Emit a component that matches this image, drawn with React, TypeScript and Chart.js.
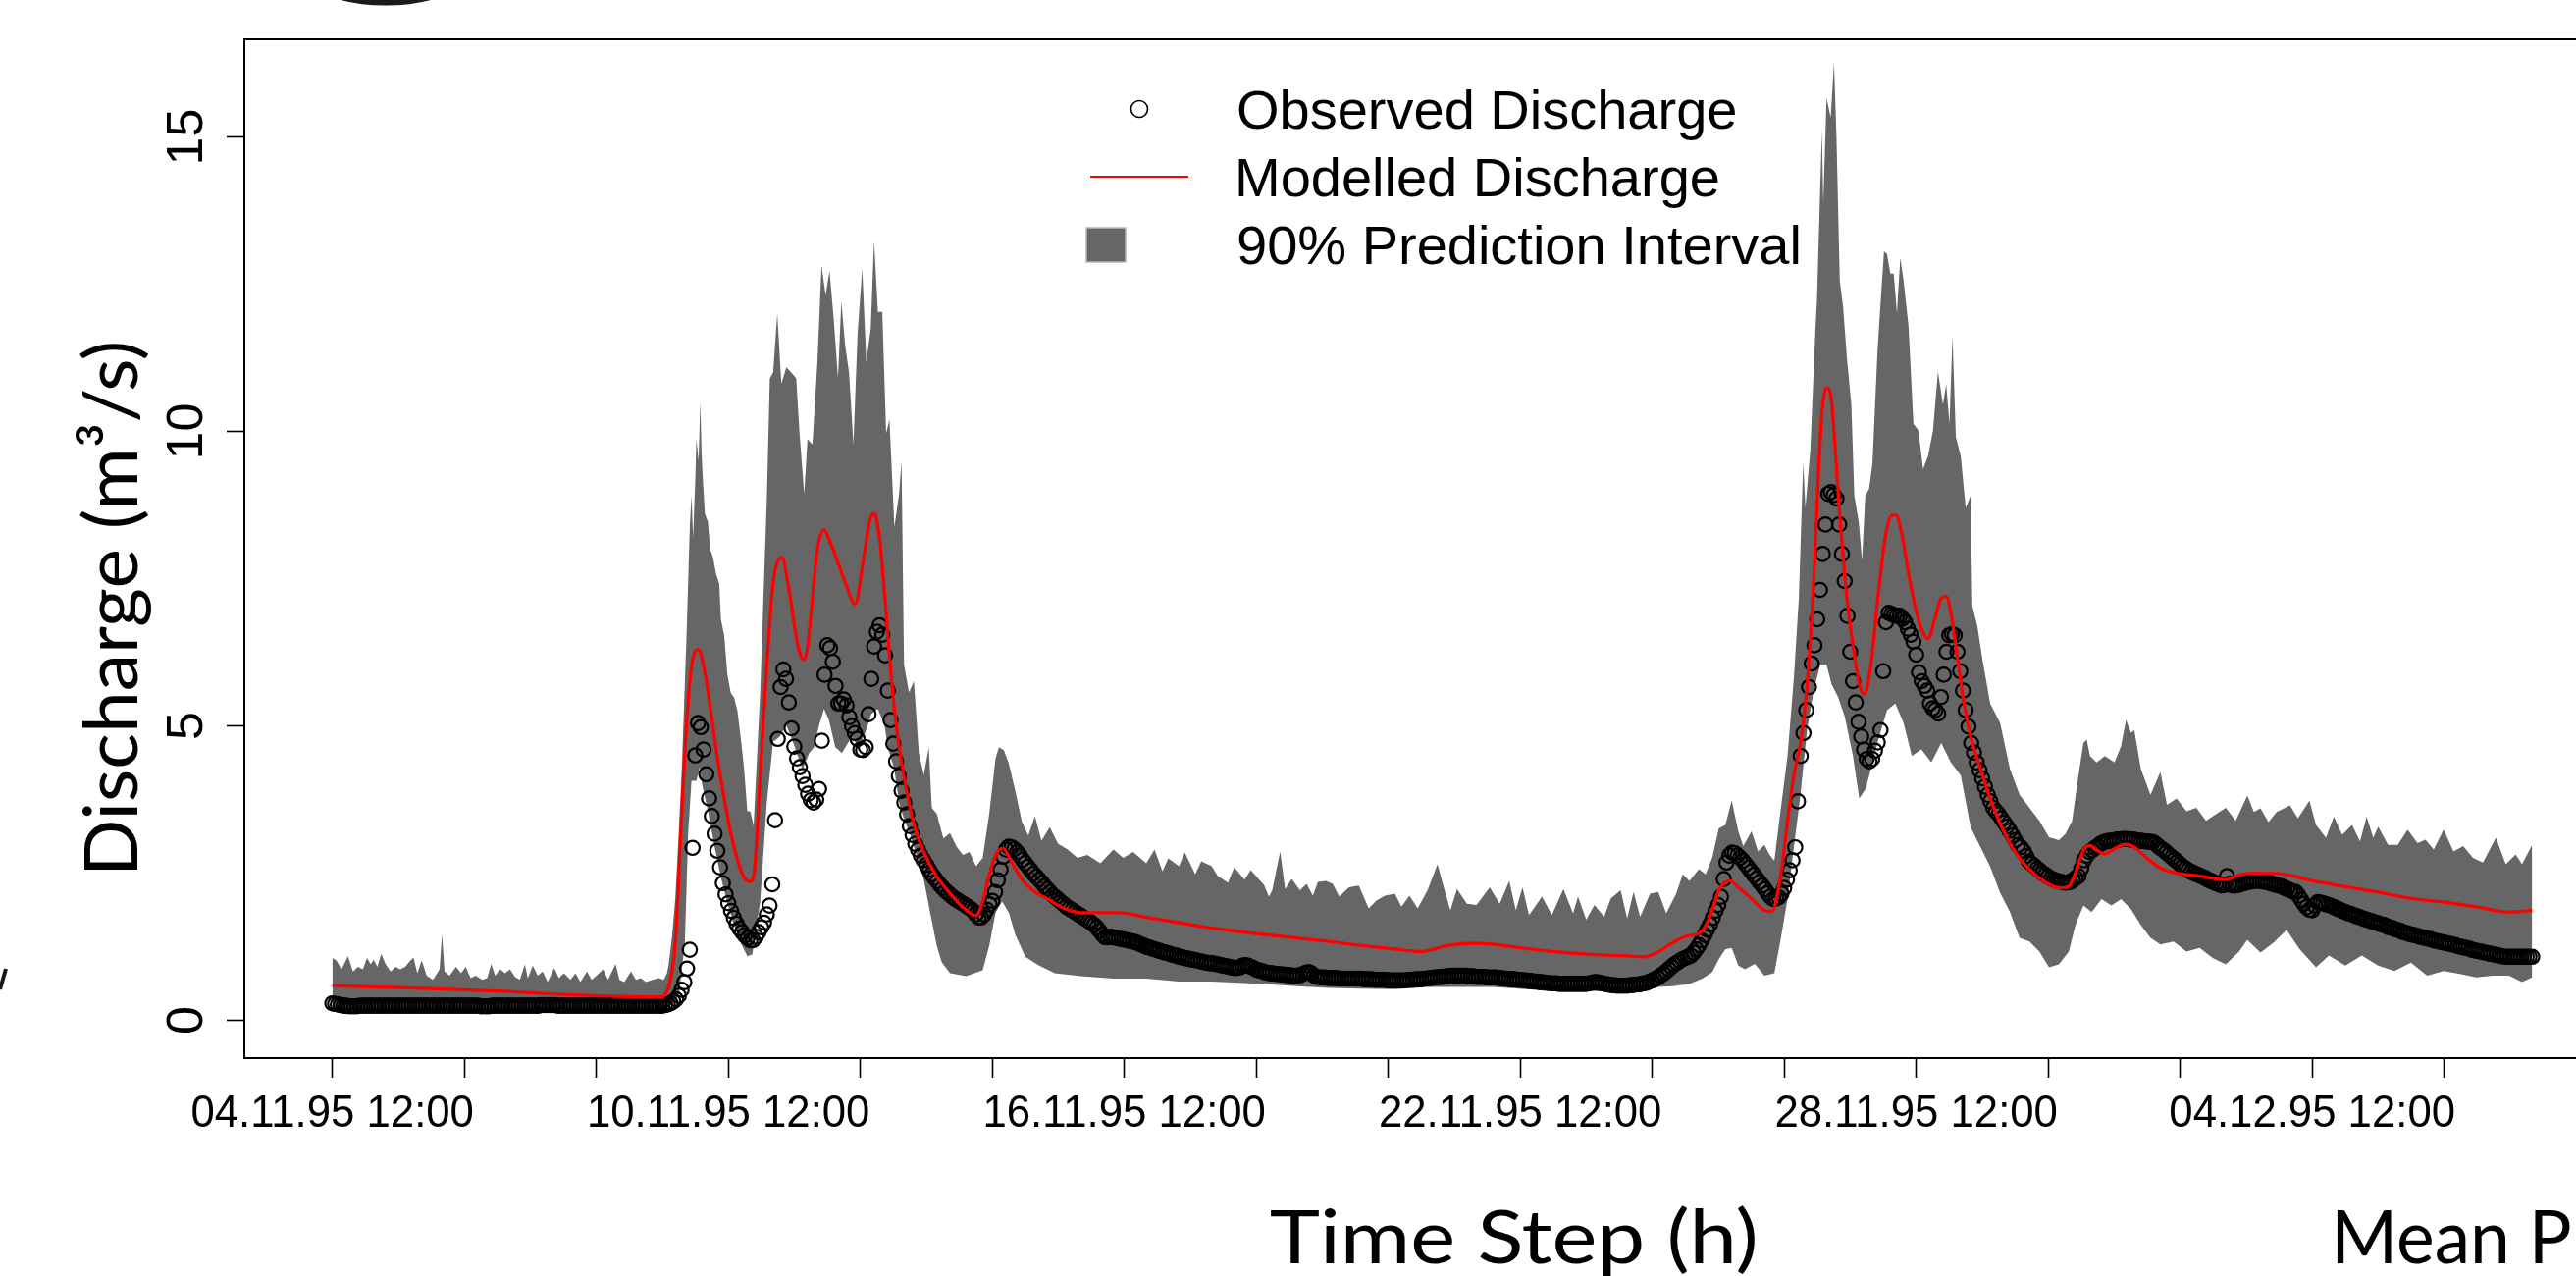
import React, { useEffect, useRef } from "react";
import { Chart, registerables } from "chart.js";

Chart.register(...registerables);

// ---------- DATA (hours after 04.11.95 12:00) ----------
const observed: number[] = [
  0.29,0.28,0.27,0.26,0.25,0.25,0.24,0.24,0.24,0.24,0.25,0.25,0.25,0.25,0.25,0.25,0.25,0.25,0.25,0.25,0.25,0.25,0.25,0.25,
  0.25,0.25,0.25,0.25,0.25,0.25,0.25,0.25,0.25,0.25,0.25,0.25,0.25,0.25,0.25,0.25,0.25,0.25,0.25,0.25,0.25,0.25,0.25,0.25,
  0.25,0.25,0.25,0.25,0.25,0.25,0.24,0.24,0.24,0.24,0.25,0.25,0.25,0.25,0.25,0.25,0.25,0.25,0.25,0.25,0.25,0.25,0.25,0.25,
  0.25,0.25,0.25,0.25,0.26,0.26,0.26,0.26,0.26,0.26,0.25,0.25,0.25,0.25,0.25,0.25,0.25,0.25,0.25,0.25,0.25,0.25,0.25,0.25,
  0.25,0.25,0.25,0.25,0.25,0.25,0.25,0.25,0.25,0.25,0.25,0.25,0.25,0.25,0.25,0.25,0.25,0.25,0.25,0.25,0.25,0.25,0.25,0.25,
  0.25,0.26,0.27,0.29,0.32,0.36,0.42,0.52,0.65,0.88,1.20,2.93,4.50,5.05,4.98,4.60,4.18,3.77,3.47,3.17,2.88,2.60,2.33,2.14,
  1.99,1.86,1.74,1.64,1.56,1.50,1.44,1.40,1.36,1.36,1.42,1.50,1.58,1.66,1.80,1.95,2.31,3.40,4.78,5.66,5.96,5.80,5.40,4.96,
  4.65,4.45,4.30,4.15,4.00,3.85,3.74,3.70,3.75,3.93,4.75,5.87,6.37,6.32,6.09,5.68,5.38,5.38,5.45,5.35,5.15,5.00,4.88,4.78,
  4.60,4.59,4.64,5.20,5.80,6.35,6.60,6.71,6.55,6.20,5.60,5.10,4.70,4.40,4.15,3.90,3.70,3.50,3.30,3.15,3.00,2.90,2.80,2.72,
  2.64,2.56,2.48,2.42,2.36,2.30,2.25,2.20,2.16,2.12,2.08,2.05,2.02,1.99,1.96,1.93,1.90,1.86,1.80,1.75,1.75,1.80,1.88,1.97,
  2.03,2.18,2.38,2.56,2.78,2.90,2.95,2.94,2.91,2.86,2.80,2.73,2.67,2.61,2.55,2.49,2.44,2.39,2.34,2.28,2.23,2.18,2.13,2.09,
  2.05,2.01,1.97,1.93,1.90,1.87,1.84,1.81,1.78,1.75,1.72,1.69,1.66,1.62,1.58,1.52,1.46,1.41,1.41,1.42,1.41,1.40,1.39,1.38,
  1.37,1.36,1.35,1.34,1.33,1.31,1.29,1.27,1.25,1.24,1.22,1.21,1.19,1.18,1.16,1.15,1.14,1.12,1.11,1.10,1.08,1.07,1.06,1.05,
  1.04,1.03,1.02,1.01,1.00,0.99,0.98,0.97,0.97,0.96,0.95,0.94,0.93,0.92,0.91,0.90,0.89,0.89,0.90,0.93,0.94,0.93,0.91,0.89,
  0.86,0.85,0.84,0.82,0.81,0.80,0.80,0.79,0.79,0.78,0.78,0.77,0.77,0.76,0.76,0.76,0.77,0.79,0.81,0.82,0.80,0.76,0.74,0.73,
  0.73,0.73,0.72,0.72,0.72,0.72,0.71,0.71,0.71,0.71,0.71,0.71,0.71,0.71,0.71,0.70,0.70,0.70,0.70,0.69,0.69,0.69,0.69,0.69,
  0.68,0.68,0.68,0.68,0.68,0.68,0.68,0.69,0.69,0.69,0.70,0.70,0.70,0.71,0.71,0.72,0.72,0.73,0.73,0.74,0.74,0.75,0.75,0.76,
  0.76,0.76,0.76,0.76,0.76,0.75,0.75,0.75,0.74,0.74,0.74,0.74,0.73,0.73,0.73,0.73,0.72,0.72,0.71,0.71,0.70,0.70,0.70,0.69,
  0.69,0.68,0.68,0.67,0.67,0.66,0.66,0.65,0.65,0.64,0.64,0.63,0.63,0.63,0.62,0.62,0.62,0.62,0.62,0.62,0.62,0.62,0.62,0.62,
  0.62,0.63,0.64,0.65,0.65,0.64,0.63,0.62,0.61,0.60,0.60,0.59,0.59,0.59,0.59,0.59,0.60,0.60,0.61,0.61,0.62,0.63,0.64,0.66,
  0.68,0.70,0.73,0.76,0.79,0.83,0.87,0.91,0.95,0.98,1.01,1.04,1.06,1.08,1.10,1.15,1.21,1.28,1.36,1.45,1.54,1.63,1.74,1.86,
  1.96,2.10,2.40,2.68,2.80,2.85,2.84,2.80,2.76,2.71,2.65,2.59,2.53,2.47,2.41,2.35,2.29,2.23,2.16,2.10,2.06,2.07,2.09,2.15,
  2.25,2.39,2.55,2.72,2.94,3.72,4.49,4.88,5.27,5.66,6.06,6.37,6.81,7.31,7.92,8.42,8.94,8.97,8.92,8.86,8.42,7.92,7.46,6.87,
  6.26,5.76,5.40,5.07,4.82,4.60,4.44,4.40,4.44,4.58,4.72,4.93,5.93,6.76,6.92,6.90,6.88,6.87,6.87,6.82,6.76,6.65,6.55,6.43,
  6.21,5.91,5.76,5.68,5.60,5.38,5.30,5.27,5.21,5.49,5.87,6.26,6.54,6.56,6.54,6.26,5.93,5.60,5.27,4.99,4.71,4.55,4.38,4.25,
  4.11,3.97,3.83,3.72,3.61,3.55,3.50,3.43,3.36,3.29,3.22,3.14,3.06,2.98,2.94,2.88,2.79,2.70,2.66,2.62,2.58,2.54,2.50,2.47,
  2.44,2.41,2.39,2.37,2.36,2.35,2.34,2.34,2.35,2.38,2.42,2.45,2.58,2.72,2.80,2.86,2.89,2.93,2.96,3.00,3.02,3.04,3.05,3.05,
  3.06,3.07,3.07,3.08,3.08,3.08,3.07,3.07,3.06,3.05,3.05,3.04,3.04,3.03,3.03,3.00,2.96,2.92,2.89,2.85,2.81,2.77,2.73,2.69,
  2.65,2.61,2.58,2.55,2.52,2.50,2.48,2.46,2.44,2.42,2.39,2.37,2.35,2.33,2.31,2.29,2.30,2.45,2.32,2.29,2.29,2.30,2.31,2.33,
  2.34,2.35,2.36,2.37,2.37,2.37,2.36,2.35,2.34,2.33,2.31,2.30,2.29,2.27,2.25,2.23,2.21,2.19,2.18,2.12,2.05,1.98,1.92,1.88,
  1.87,1.95,2.01,2.00,1.99,1.97,1.96,1.94,1.92,1.90,1.88,1.86,1.84,1.82,1.81,1.79,1.77,1.76,1.74,1.72,1.71,1.69,1.68,1.66,
  1.65,1.63,1.62,1.60,1.58,1.57,1.55,1.54,1.52,1.50,1.49,1.47,1.46,1.45,1.44,1.42,1.41,1.40,1.39,1.38,1.36,1.35,1.34,1.33,
  1.32,1.31,1.30,1.29,1.28,1.26,1.25,1.24,1.23,1.22,1.20,1.19,1.18,1.17,1.16,1.15,1.14,1.13,1.12,1.11,1.10,1.09,1.08,1.08,
  1.08,1.08,1.08,1.08,1.08,1.08,1.08,1.08,1.08,
];

// [hour, discharge]
const modelled: [number, number][] = [
  [0,0.59],[30,0.55],[60,0.5],[90,0.43],[115,0.4],[120,0.4],[121,0.45],[122.3,0.57],[124.7,1.32],[127.1,3.55],[128.8,5.04],
  [130.6,6.0],[133,6.3],[135.4,5.93],[137.8,5.19],[140.1,4.44],[142.5,3.77],[144.9,3.18],[147.3,2.73],[149.7,2.43],[152,2.36],
  [153.5,2.55],[155.6,4.17],[158,6.04],[160.3,7.44],[162,7.8],[163.7,7.86],[165,7.6],[166.3,7.25],[168.7,6.51],[170.3,6.2],
  [171.6,6.13],[173,6.4],[174,6.88],[176.4,8.0],[178.8,8.33],[181.2,8.1],[183.5,7.82],[186.5,7.44],[190.1,7.07],[193.1,7.82],
  [195.4,8.47],[197,8.61],[199,8.19],[200.8,7.25],[203.2,5.85],[205.6,4.82],[208.5,3.98],[211.5,3.33],[215.1,2.86],[219.8,2.44],
  [224.6,2.16],[229.3,1.92],[234.1,1.78],[236.5,2.02],[238.9,2.48],[241.2,2.81],[243.9,2.92],[247.2,2.67],[250.8,2.39],
  [255.5,2.18],[260.3,2.06],[266.2,1.9],[272.2,1.83],[286.5,1.83],[296,1.75],[307.9,1.66],[319.8,1.57],[331.7,1.5],[338.8,1.46],
  [350.7,1.4],[362.6,1.34],[374.5,1.27],[386.4,1.21],[395.9,1.17],[400,1.2],[404.2,1.26],[416.1,1.31],[434,1.22],[445.9,1.16],
  [457.8,1.12],[469.7,1.1],[476.8,1.08],[481.6,1.15],[487.5,1.32],[492.3,1.43],[497,1.48],[499.4,1.6],[501.8,1.87],[504.2,2.21],
  [506.6,2.35],[508.3,2.37],[511.3,2.26],[516.1,2.07],[520.8,1.87],[523.5,1.85],[526.8,2.5],[529.2,3.39],[531.5,4.16],
  [533.9,4.71],[535.7,5.38],[536.9,6.04],[538.1,6.92],[539.3,8.03],[540.5,9.36],[542,10.46],[543.4,10.74],[544.9,10.63],
  [546.4,9.8],[548.2,8.58],[550.6,7.26],[553,6.37],[555.3,5.71],[557.1,5.54],[559.5,6.04],[562.5,7.37],[564.9,8.25],[567.2,8.58],
  [568.7,8.58],[570.8,8.25],[573.2,7.59],[575.6,7.03],[577.9,6.65],[580.3,6.48],[582.7,6.81],[585.1,7.17],[586.9,7.2],
  [588.6,6.92],[591,6.15],[593.4,5.38],[595.8,4.82],[599.4,4.27],[602.9,3.77],[607.7,3.22],[612.4,2.83],[617.2,2.56],
  [623.2,2.34],[628.5,2.25],[631.5,2.28],[633.9,2.5],[636.8,2.89],[639.2,2.97],[641.6,2.89],[644.6,2.83],[648.1,2.92],
  [652.3,2.99],[655.3,2.94],[660,2.75],[664.8,2.59],[670.7,2.5],[679.1,2.45],[688.6,2.39],[693.4,2.47],[699.3,2.5],
  [708.3,2.49],[720.2,2.37],[732.1,2.27],[744,2.18],[755.9,2.07],[767.8,2.01],[779.7,1.93],[791.6,1.84],[800,1.87],
];

const upperBound: [number, number][] = [
  [0,1.06],[1.5,1.02],[3.3,0.87],[5.7,1.09],[7.5,0.83],[9.3,0.91],[11.1,0.87],[12.6,1.06],[14,0.95],[15,1.03],[16.4,0.91],
  [17.8,1.13],[19.4,0.95],[21.2,0.83],[23,0.91],[24.7,0.87],[26.5,0.91],[27.7,0.98],[29.5,1.07],[30.9,0.8],[32.5,1.02],
  [34.3,0.76],[36.6,0.69],[39,0.87],[39.9,1.47],[40.8,0.83],[42.6,0.76],[45,0.91],[46.8,0.8],[48.5,0.91],[50.3,0.72],
  [52.1,0.76],[54.5,0.69],[56.3,0.72],[57.8,0.96],[59.2,0.76],[61,0.87],[62.8,0.8],[64.6,0.87],[66.4,0.74],[68.2,0.69],
  [70,0.95],[71.1,0.72],[72.9,0.93],[74.7,0.76],[76.5,0.83],[78.3,0.65],[80.7,0.89],[82.4,0.72],[84.2,0.8],[86.6,0.69],
  [88.4,0.8],[90.2,0.65],[92.6,0.83],[94.3,0.69],[96.1,0.76],[98.5,0.87],[100.3,0.69],[103,0.96],[104.4,0.69],[106.2,0.65],
  [108.6,0.83],[110.4,0.69],[112.2,0.72],[114,0.65],[116.4,0.69],[118.7,0.72],[120.5,0.69],[121.7,0.8],
  [122.3,0.95],[123.5,1.4],[124.7,2.06],[126,3.2],[127.1,4.3],[128.8,6.53],[130,8.39],[130.6,8.91],[131.2,8.2],[132,9.2],
  [132.4,9.87],[133.2,9.5],[133.8,10.51],[134.3,9.6],[134.8,9.13],[135.5,8.6],[136.6,8.46],[137.4,8.0],[138.4,7.87],
  [139.6,7.57],[140.7,7.42],[141.3,6.82],[142.5,6.53],[143.7,5.86],[144.9,5.56],[146.1,5.48],[147.3,5.26],[148.5,4.81],
  [149.7,4.29],[150.9,3.55],[152,3.55],[153.2,3.3],[155.6,5.57],[158,8.85],[159.1,10.9],[160.3,11.0],[161.8,12.0],
  [163.3,10.81],[165.1,11.09],[166.9,11.0],[168.7,10.9],[169.9,9.97],[171.6,8.94],[172.8,9.87],[174.6,9.78],[176.4,11.18],
  [177.9,12.82],[179.4,12.31],[180.8,12.73],[182.3,11.93],[183.9,10.9],[185.1,12.21],[186.5,11.46],[187.9,11.0],[189.5,9.78],
  [191,11.65],[192.7,12.77],[194.2,11.18],[195.8,11.75],[197,13.24],[198.4,12.03],[200,12.03],[201.4,9.97],[202.6,10.2],
  [204.4,8.38],[206.1,8.94],[207,9.5],[207.9,6.04],[209.7,5.57],[211.5,5.76],[213.3,4.54],[215.1,4.17],[216.9,4.64],[218,3.61],
  [219.8,3.51],[222.2,3.09],[224.6,3.18],[227,2.95],[229.3,2.81],[231.7,2.86],[234.1,2.62],[236.5,2.76],[238.9,3.51],
  [241.2,4.45],[242.4,4.64],[244.2,4.59],[246,4.36],[248.4,3.89],[250.8,3.37],[253.1,3.14],[255.5,3.47],[257.9,3.05],
  [260.9,3.28],[263.9,3.0],[267.4,2.9],[271,2.76],[274.6,2.81],[279.3,2.67],[284.1,2.9],[287.6,2.76],[291.2,2.86],[296,2.67],
  [299,2.9],[301.9,2.53],[304,2.75],[307.9,2.62],[310,2.85],[313.8,2.48],[316,2.7],[319.8,2.62],[322,2.45],[325.7,2.34],
  [328,2.6],[331.7,2.39],[334,2.55],[338.8,2.3],[340.6,2.1],[341.8,2.21],[344.7,2.87],[346.5,2.23],[348.9,2.4],[351.9,2.21],
  [354.3,2.32],[356.6,2.12],[358.4,2.35],[361.4,2.37],[363.8,2.32],[366.2,2.1],[369.7,2.26],[373.3,2.29],[376.9,1.9],
  [379.8,2.04],[382.8,2.12],[386.4,2.15],[388.8,1.93],[391.7,2.12],[394.7,1.9],[398.3,2.21],[401.9,2.65],[404.2,2.26],
  [406.6,1.87],[409,2.23],[412.6,1.98],[416.1,1.96],[420.9,2.26],[424.5,1.98],[428,2.37],[430.4,1.87],[432.8,2.26],
  [435.2,1.79],[439.9,2.1],[443.5,1.79],[447.7,2.23],[451.2,1.82],[453,2.1],[456,1.71],[459,1.96],[462.5,1.76],[464.9,2.07],
  [468.5,2.21],[470.9,1.73],[473.2,2.18],[475.6,1.76],[479.2,2.15],[482.2,2.18],[485.1,1.82],[488.7,2.15],[491.1,2.48],
  [493.5,2.37],[497,2.57],[499.4,2.48],[501.8,2.76],[504.2,3.26],[506.6,3.32],[508.9,3.73],[511.3,3.21],[513.1,2.96],
  [516.1,3.21],[518.5,2.87],[520.8,2.98],[522.6,2.82],[524.4,2.71],[526.8,3.61],[529.2,4.49],[531.5,5.82],[533.3,7.15],
  [534.9,9.47],[535.7,8.7],[537.5,9.69],[539.3,11.68],[539.9,12.23],[541.7,15.11],[542.2,13.89],[543.4,15.66],[544.9,15.33],
  [546.1,16.27],[547,15.0],[548.2,12.56],[549.4,12.12],[550.8,11.24],[552.4,10.46],[553.5,8.91],[555.1,8.47],[556.3,7.81],
  [557.5,8.91],[558.9,9.03],[560.1,9.47],[561.9,11.35],[563.1,12.23],[564.3,13.06],[565.4,13.01],[566.6,12.68],[567.8,12.68],
  [569,12.01],[570.2,12.95],[571.4,12.56],[573.2,11.79],[575,10.13],[576.8,10.02],[578.5,9.36],[580.3,9.58],[582.1,10.02],
  [583.9,11.02],[585.7,10.46],[586.9,10.8],[588.1,10.13],[589.2,11.62],[590.4,9.91],[592.2,9.58],[594,8.7],[595.8,8.91],
  [596.4,7.04],[598.2,6.7],[600,6.15],[602.9,5.38],[606.5,5.05],[610.1,4.27],[613.6,3.83],[617.2,3.61],[620.8,3.39],
  [624.3,3.11],[627.9,3.06],[630.3,3.17],[632.7,3.39],[635,4.16],[636.8,4.71],[638,4.77],[639.2,4.49],[641.6,4.38],
  [644.6,4.49],[648.1,4.38],[650.5,4.66],[652.3,5.1],[654.1,4.88],[655.3,4.93],[657.7,4.27],[661.2,3.83],[664.8,4.22],
  [667.2,3.66],[670.7,3.77],[674.3,3.55],[677.9,3.61],[681.4,3.39],[685,3.5],[688.6,3.61],[692.2,3.39],[696.4,3.82],
  [698.8,3.54],[701.2,3.6],[704.1,3.37],[707.1,3.54],[711.9,3.65],[714.8,3.43],[719,3.73],[721.4,3.32],[725,3.1],[727.9,3.46],
  [730.9,3.15],[734.5,3.32],[737.4,3.04],[739.8,3.46],[742.2,3.1],[744,3.29],[747.6,2.98],[751.1,2.98],[754.7,3.24],
  [758.3,3.01],[761.2,3.07],[764.2,2.9],[767.8,3.24],[771.4,2.87],[774.9,2.96],[778.5,2.76],[782.1,2.68],[786.8,3.1],
  [790.4,2.65],[794,2.82],[796.3,2.65],[800,2.98],
];

const lowerBound: [number, number][] = [
  [0,0.2],[60,0.2],[120,0.2],[122,0.24],[124,0.3],[126,0.42],[128.2,1.32],[129.4,3.18],[130.6,4.07],[132.4,4.07],[133.6,4.3],
  [134.5,4.0],[136.6,3.55],[139,2.95],[141.3,2.43],[143.7,1.99],[146.1,1.62],[148.5,1.32],[150.9,1.09],[152.7,1.12],
  [155.6,2.02],[158,3.7],[160.3,4.73],[162.7,4.82],[165.1,5.01],[167.5,4.73],[171,4.26],[173.4,4.54],[175.2,4.64],[177,5.01],
  [178.8,5.29],[180.6,5.1],[182.9,4.64],[185.3,4.54],[188.9,4.82],[191.3,4.64],[193.7,4.87],[196,5.2],[198.4,5.29],[200.8,5.01],
  [202,4.64],[204.4,4.26],[206.1,3.7],[207.9,3.42],[210.3,3.14],[212.7,2.76],[215.1,2.39],[217.4,1.83],[219.8,1.27],
  [221.6,0.99],[224.6,0.8],[230.5,0.75],[236.5,0.85],[238.9,1.27],[241.2,1.83],[243.6,2.02],[246,1.83],[248.4,1.45],[252,1.08],
  [256.7,0.94],[262.7,0.8],[272.2,0.75],[284.1,0.71],[296,0.71],[307.9,0.66],[319.8,0.66],[338.8,0.62],[350.7,0.58],
  [362.6,0.55],[374.5,0.54],[386.4,0.53],[398.3,0.57],[410.2,0.57],[422.1,0.57],[434,0.53],[445.9,0.5],[457.8,0.5],[469.7,0.47],
  [475.6,0.48],[481.6,0.57],[487.5,0.58],[493.5,0.62],[498.2,0.71],[501.8,0.82],[504.2,1.04],[506.6,1.21],[508.9,1.23],
  [511.3,0.93],[513.7,0.87],[517.3,0.96],[520.8,0.76],[524.4,0.8],[526.8,1.4],[529.2,2.06],[531.5,2.94],[533.9,3.83],
  [536.3,4.93],[538.7,5.6],[541.1,6.04],[543.4,6.04],[545.2,5.71],[547.6,5.49],[550,5.16],[553,4.49],[555.3,3.77],[557.7,3.94],
  [560.1,4.38],[562.5,4.82],[565.4,5.27],[568.4,5.38],[571.4,5.05],[574.4,4.49],[577.9,4.6],[581.5,4.38],[585.1,4.71],
  [588.6,4.38],[592.2,4.16],[595.8,3.28],[599.4,2.94],[602.9,2.61],[606.5,2.17],[610.1,1.84],[613.6,1.4],[617.2,1.34],
  [620.8,1.17],[624.3,0.9],[627.9,0.95],[631.5,1.17],[633.9,1.62],[636.8,1.95],[639.8,1.84],[643.4,2.06],[647,1.95],
  [650.5,2.06],[654.1,1.89],[657.7,1.62],[661.2,1.4],[664.8,1.29],[669.6,1.34],[674.3,1.17],[679.1,1.23],[683.8,1.06],
  [688.6,0.95],[693.4,1.17],[696.4,1.37],[701.2,1.15],[705.9,1.32],[710.7,1.54],[715.4,1.21],[721.4,0.9],[726.1,1.1],
  [732.1,0.93],[738,1.1],[744,0.93],[749.9,0.84],[755.9,0.98],[761.8,0.76],[767.8,0.84],[773.7,0.79],[779.7,0.73],
  [785.6,0.76],[791.6,0.76],[796.3,0.65],[800,0.73],
];

const xTickHours = [0, 48, 96, 144, 192, 240, 288, 336, 384, 432, 480, 528, 576, 624, 672, 720, 768];
const xLabelHours = [0, 144, 288, 432, 576, 720];
const xLabels = ["04.11.95 12:00", "10.11.95 12:00", "16.11.95 12:00", "22.11.95 12:00", "28.11.95 12:00", "04.12.95 12:00"];
const yTicks = [0, 5, 10, 15];
const legendLabels = ["Observed Discharge", "Modelled Discharge", "90% Prediction Interval"];
const xTitle = "Time Step (h)";
const yTitle = "Discharge (m³/s)";
const neighbourTitle = "Mean P";

const toXY = (pts: [number, number][]) => pts.map(([x, y]) => ({ x, y }));

const decorPlugin = {
  id: "decor",
  afterDraw(chart: any) {
    const { ctx, chartArea: a, scales } = chart;
    const xs = scales.x;
    const ys = scales.y;
    ctx.save();

    // plot box
    ctx.strokeStyle = "#000";
    ctx.lineWidth = 2;
    ctx.strokeRect(a.left, a.top, a.right - a.left, a.bottom - a.top);

    ctx.fillStyle = "#000";
    ctx.textBaseline = "alphabetic";

    // x tick labels
    ctx.font = '46px "Liberation Sans", Arial, sans-serif';
    const m0 = ctx.measureText(xLabels[0]);
    const ink0 = m0.actualBoundingBoxLeft + m0.actualBoundingBoxRight;
    const sx = 286 / ink0;
    ctx.textAlign = "center";
    xLabelHours.forEach((h, i) => {
      const px = xs.getPixelForValue(h);
      ctx.save();
      ctx.translate(px, 1148);
      ctx.scale(sx, 1);
      ctx.fillText(xLabels[i], 0, 0);
      ctx.restore();
    });

    // y tick labels (rotated)
    ctx.font = '52px "Liberation Sans", Arial, sans-serif';
    yTicks.forEach((v) => {
      const py = ys.getPixelForValue(v);
      ctx.save();
      ctx.translate(205.5, py);
      ctx.rotate(-Math.PI / 2);
      ctx.fillText(String(v), 0, 0);
      ctx.restore();
    });

    // legend
    ctx.strokeStyle = "#000";
    ctx.lineWidth = 1.6;
    ctx.beginPath();
    ctx.arc(1161, 111, 8.5, 0, Math.PI * 2);
    ctx.stroke();
    ctx.strokeStyle = "#ff0000";
    ctx.lineWidth = 2.2;
    ctx.beginPath();
    ctx.moveTo(1111, 180);
    ctx.lineTo(1211, 180);
    ctx.stroke();
    ctx.fillStyle = "#666666";
    ctx.fillRect(1107, 232, 40, 35);
    ctx.strokeStyle = "#b8b8b8";
    ctx.lineWidth = 1.5;
    ctx.strokeRect(1107, 232, 40, 35);
    ctx.fillStyle = "#000";
    ctx.font = '56px "Liberation Sans", Arial, sans-serif';
    ctx.textAlign = "left";
    const baselines = [131, 200, 269];
    legendLabels.forEach((t, i) => {
      const m = ctx.measureText(t);
      ctx.fillText(t, 1262 + m.actualBoundingBoxLeft, baselines[i]);
    });

    // axis titles (Myriad-like)
    ctx.font = "76px Lato, 'Open Sans', sans-serif";
    const mx = ctx.measureText(xTitle);
    const sTitle = 493 / (mx.actualBoundingBoxLeft + mx.actualBoundingBoxRight);
    ctx.save();
    ctx.translate(1295, 1287);
    ctx.scale(sTitle, 1);
    ctx.fillText(xTitle, mx.actualBoundingBoxLeft, 0);
    ctx.restore();

    const mn = ctx.measureText(neighbourTitle);
    const sN = 238 / (mn.actualBoundingBoxLeft + mn.actualBoundingBoxRight);
    ctx.save();
    ctx.translate(2381, 1287);
    ctx.scale(sN, 1);
    ctx.fillText(neighbourTitle, mn.actualBoundingBoxLeft, 0);
    ctx.restore();

    const my = ctx.measureText(yTitle);
    const sY = 537 / (my.actualBoundingBoxLeft + my.actualBoundingBoxRight);
    ctx.save();
    ctx.translate(140, 887);
    ctx.rotate(-Math.PI / 2);
    ctx.scale(sY, 1);
    ctx.fillText(yTitle, my.actualBoundingBoxLeft, 0);
    ctx.restore();

    // fragments of neighbouring panels at the edges
    ctx.strokeStyle = "#1a1a1a";
    ctx.lineWidth = 7;
    ctx.beginPath();
    ctx.ellipse(393, -44, 95, 46, 0, 0, Math.PI * 2);
    ctx.stroke();
    ctx.lineWidth = 4;
    ctx.beginPath();
    ctx.moveTo(0, 1008);
    ctx.lineTo(6, 987);
    ctx.stroke();

    ctx.restore();
  },
};

export default function App() {
  const canvasRef = useRef<HTMLCanvasElement | null>(null);

  useEffect(() => {
    const canvas = canvasRef.current;
    if (!canvas) return;
    const chart = new Chart(canvas, {
      type: "line",
      data: {
        datasets: [
          {
            label: "Modelled Discharge",
            data: toXY(modelled),
            borderColor: "#ff0000",
            borderWidth: 3.3,
            pointRadius: 0,
            cubicInterpolationMode: "monotone",
            fill: false,
          },
          {
            label: "Observed Discharge",
            data: observed.map((v, i) => ({ x: i, y: v })),
            showLine: false,
            pointRadius: 7.2,
            pointBorderWidth: 2.2,
            pointBorderColor: "#000",
            pointBackgroundColor: "rgba(0,0,0,0)",
            borderColor: "#000",
            fill: false,
          },
          {
            label: "90% Prediction Interval",
            data: toXY(upperBound),
            borderColor: "rgba(0,0,0,0)",
            borderWidth: 0,
            pointRadius: 0,
            backgroundColor: "#666666",
            fill: "+1",
          },
          {
            label: "lower",
            data: toXY(lowerBound),
            borderColor: "rgba(0,0,0,0)",
            borderWidth: 0,
            pointRadius: 0,
            fill: false,
          },
        ],
      },
      options: {
        responsive: false,
        animation: false,
        devicePixelRatio: 1,
        events: [],
        layout: { padding: { left: 0, right: 30, top: 40, bottom: 0 } },
        plugins: {
          legend: { display: false },
          tooltip: { enabled: false },
        },
        scales: {
          x: {
            type: "linear",
            min: -32,
            max: 832,
            afterFit: (s: any) => {
              s.height = 222;
            },
            afterBuildTicks: (s: any) => {
              s.ticks = xTickHours.map((v) => ({ value: v }));
            },
            ticks: { display: false },
            grid: { drawOnChartArea: false, drawTicks: true, tickLength: 20, tickColor: "#000", tickWidth: 1.6 },
            border: { display: false },
          },
          y: {
            type: "linear",
            min: -0.64,
            max: 16.66,
            afterFit: (s: any) => {
              s.width = 249;
            },
            afterBuildTicks: (s: any) => {
              s.ticks = yTicks.map((v) => ({ value: v }));
            },
            ticks: { display: false },
            grid: { drawOnChartArea: false, drawTicks: true, tickLength: 18, tickColor: "#000", tickWidth: 1.6 },
            border: { display: false },
          },
        },
      },
      plugins: [decorPlugin],
    } as any);

    const fonts = (document as any).fonts;
    if (fonts && fonts.load) {
      Promise.all([
        fonts.load("76px Lato"),
        fonts.load('52px "Liberation Sans"'),
      ])
        .catch(() => null)
        .then(() => {
          try {
            chart.draw();
          } catch (e) {
            /* chart destroyed */
          }
        });
    }

    return () => {
      chart.destroy();
    };
  }, []);

  return (
    <div
      style={{
        position: "fixed",
        left: 0,
        top: 0,
        width: 2625,
        height: 1300,
        overflow: "hidden",
        background: "#ffffff",
      }}
    >
      <canvas ref={canvasRef} width={2700} height={1300} style={{ display: "block", width: 2700, height: 1300 }} />
    </div>
  );
}
